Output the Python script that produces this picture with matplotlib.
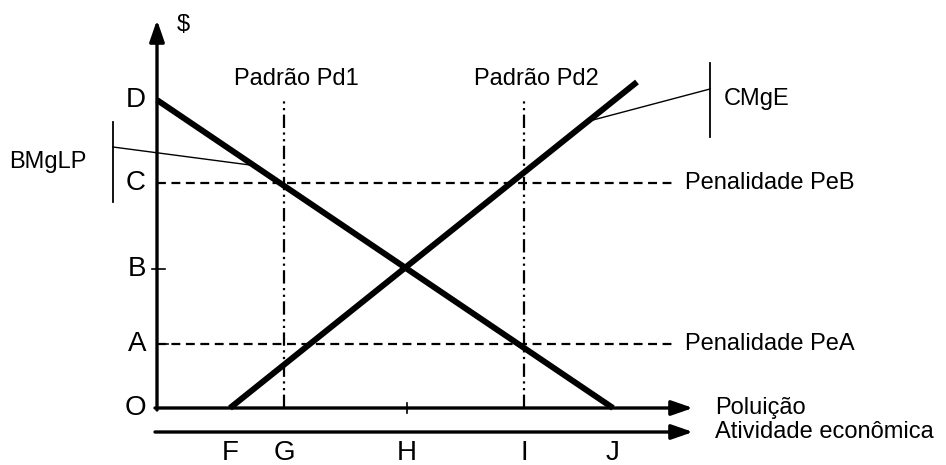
import matplotlib
matplotlib.use('Agg')
import matplotlib.pyplot as plt

plt.rcParams['font.family'] = ['Liberation Sans', 'DejaVu Sans']

# valores do diagrama (origem O em 0,0)
price_labels = ['O', 'A', 'B', 'C', 'D']
price_levels = [0, 64, 139, 225, 308]
qty_labels = ['F', 'G', 'H', 'I', 'J']
qty_levels = [73, 127, 250, 367, 456]

# curvas
bmglp_x = [0, 456]
bmglp_y = [308, 0]
cmge_x = [73, 480]
cmge_y = [0, 326]

# padrões e penalidades
padroes = ['Padrão Pd1', 'Padrão Pd2']
padroes_x = [127, 367]
penalidades = ['Penalidade PeB', 'Penalidade PeA']
penalidades_y = [225, 64]

X_END = 536
Y_TOP = 388


def main():
    fig = plt.figure(figsize=(9.46, 4.65), dpi=100)
    ax = fig.add_axes([0, 0, 1, 1])
    ax.set_xlim(-157, 946 - 157)
    ax.set_ylim(408 - 465, 408)
    ax.axis('off')

    k = 'black'
    arrow = dict(arrowstyle='-|>,head_length=1.3,head_width=0.45',
                 lw=2.4, color=k, shrinkA=0, shrinkB=0)
    # eixos
    ax.annotate('', xy=(0, Y_TOP), xytext=(0, -2), arrowprops=arrow)
    ax.annotate('', xy=(X_END, 0), xytext=(-2, 0), arrowprops=arrow)
    ax.annotate('', xy=(X_END, -24), xytext=(-2, -24), arrowprops=arrow)

    # penalidades
    for lab, y in zip(penalidades, penalidades_y):
        ax.plot([0, 518], [y, y], color=k, lw=1.6, ls=(0, (4, 2.5)))
        ax.text(528, y, lab, fontsize=17, va='center', ha='left')

    # padrões
    for lab, x in zip(padroes, padroes_x):
        ax.plot([x, x], [0, 311], color=k, lw=1.6, ls=(0, (6, 2, 1, 2, 1, 2)))
        ax.text(x + 12, 329, lab, fontsize=17, ha='center', va='center')

    # curvas
    ax.plot(bmglp_x, bmglp_y, color=k, lw=4.3, solid_capstyle='butt')
    ax.plot(cmge_x, cmge_y, color=k, lw=4.3, solid_capstyle='butt')

    # marcas
    ax.plot([-5, 8], [price_levels[2], price_levels[2]], color=k, lw=1.2)
    ax.plot([2, 11], [price_levels[1], price_levels[1]], color=k, lw=1.2)
    ax.plot([qty_levels[2], qty_levels[2]], [-5, 5], color=k, lw=1.2)

    for lab, y in zip(price_labels, price_levels):
        ax.text(-11, y, lab, fontsize=20, ha='right', va='center')
    for lab, x in zip(qty_labels, qty_levels):
        ax.text(x, -45, lab, fontsize=20, ha='center', va='center')

    ax.text(26, 383, '$', fontsize=17, ha='center', va='center')
    ax.text(558, 0, 'Poluição', fontsize=17, va='center')
    ax.text(558, -24, 'Atividade econômica', fontsize=17, va='center')

    # legendas das curvas
    ax.plot([-44, -44], [206, 286], color=k, lw=1.3)
    ax.plot([-44, 93], [261, 243], color=k, lw=1.0)
    ax.text(-148, 246, 'BMgLP', fontsize=17, va='center')

    ax.plot([553, 553], [271, 345], color=k, lw=1.3)
    ax.plot([553, 436], [319, 288], color=k, lw=1.0)
    ax.text(567, 309, 'CMgE', fontsize=17, va='center')

    fig.savefig('out.png', dpi=100)


if __name__ == "__main__":
    main()
